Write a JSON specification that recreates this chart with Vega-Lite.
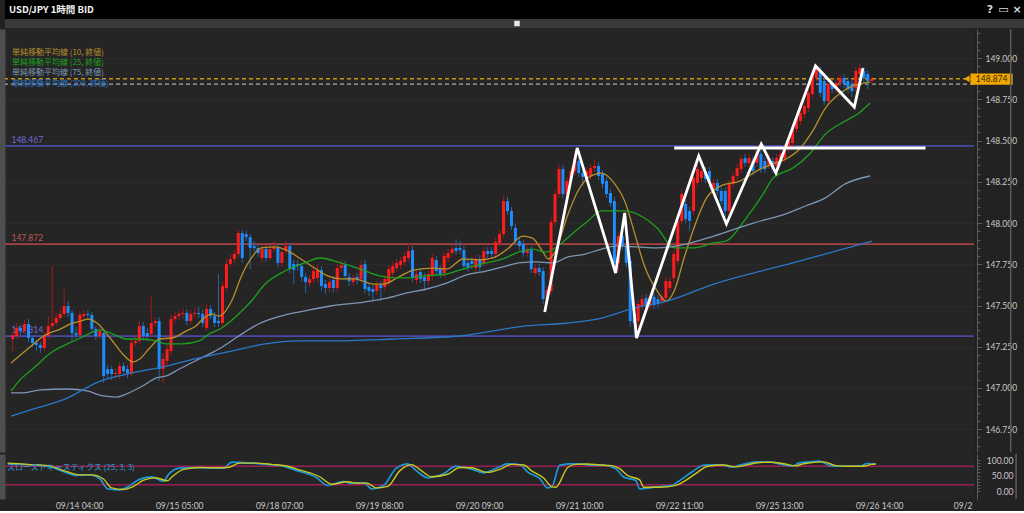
{
"$schema": "https://vega.github.io/schema/vega-lite/v6.json",
"background": "#222222",
"padding": 0,
"spacing": 0,
"resolve": {"scale": {"x": "independent", "y": "independent", "color": "independent"}},
"config": {"view": {"stroke": null}, "axis": {"labelFont": "Lato", "labelColor": "#c8c8c8", "title": null}},
"datasets": {
"candles": [
{"t":-18,"o":147.297,"h":147.339,"l":147.22,"c":147.321},
{"t":-17,"o":147.315,"h":147.394,"l":147.297,"c":147.364},
{"t":-16,"o":147.364,"h":147.382,"l":147.321,"c":147.345},
{"t":-15,"o":147.345,"h":147.412,"l":147.327,"c":147.388},
{"t":-14,"o":147.388,"h":147.418,"l":147.279,"c":147.303},
{"t":-13,"o":147.303,"h":147.321,"l":147.248,"c":147.273},
{"t":-12,"o":147.273,"h":147.291,"l":147.224,"c":147.261},
{"t":-11,"o":147.261,"h":147.279,"l":147.212,"c":147.242},
{"t":-10,"o":147.242,"h":147.339,"l":147.224,"c":147.315},
{"t":-9,"o":147.315,"h":147.436,"l":147.297,"c":147.376},
{"t":-8,"o":147.376,"h":147.739,"l":147.358,"c":147.394},
{"t":-7,"o":147.394,"h":147.455,"l":147.376,"c":147.424},
{"t":-6,"o":147.424,"h":147.479,"l":147.406,"c":147.449},
{"t":-5,"o":147.449,"h":147.6,"l":147.43,"c":147.497},
{"t":-4,"o":147.497,"h":147.527,"l":147.43,"c":147.455},
{"t":-3,"o":147.455,"h":147.473,"l":147.285,"c":147.333},
{"t":-2,"o":147.333,"h":147.37,"l":147.297,"c":147.321},
{"t":-1,"o":147.321,"h":147.467,"l":147.303,"c":147.443},
{"t":0,"o":147.436,"h":147.473,"l":147.418,"c":147.449},
{"t":1,"o":147.449,"h":147.473,"l":147.418,"c":147.443},
{"t":2,"o":147.443,"h":147.461,"l":147.339,"c":147.358},
{"t":3,"o":147.358,"h":147.376,"l":147.291,"c":147.315},
{"t":4,"o":147.315,"h":147.37,"l":147.297,"c":147.345},
{"t":5,"o":147.333,"h":147.358,"l":147.03,"c":147.073},
{"t":6,"o":147.115,"h":147.139,"l":147.061,"c":147.085},
{"t":7,"o":147.115,"h":147.133,"l":147.048,"c":147.085},
{"t":8,"o":147.085,"h":147.121,"l":147.061,"c":147.091},
{"t":9,"o":147.085,"h":147.158,"l":147.055,"c":147.133},
{"t":10,"o":147.133,"h":147.152,"l":147.079,"c":147.103},
{"t":11,"o":147.115,"h":147.139,"l":147.061,"c":147.091},
{"t":12,"o":147.091,"h":147.297,"l":147.073,"c":147.273},
{"t":13,"o":147.273,"h":147.309,"l":147.255,"c":147.285},
{"t":14,"o":147.285,"h":147.406,"l":147.267,"c":147.376},
{"t":15,"o":147.376,"h":147.4,"l":147.285,"c":147.315},
{"t":16,"o":147.333,"h":147.364,"l":147.285,"c":147.315},
{"t":17,"o":147.327,"h":147.558,"l":147.303,"c":147.394},
{"t":18,"o":147.394,"h":147.43,"l":147.37,"c":147.406},
{"t":19,"o":147.406,"h":147.43,"l":147.042,"c":147.115},
{"t":20,"o":147.115,"h":147.212,"l":147.03,"c":147.176},
{"t":21,"o":147.164,"h":147.261,"l":147.127,"c":147.236},
{"t":22,"o":147.224,"h":147.443,"l":147.2,"c":147.418},
{"t":23,"o":147.418,"h":147.461,"l":147.394,"c":147.436},
{"t":24,"o":147.436,"h":147.473,"l":147.412,"c":147.449},
{"t":25,"o":147.449,"h":147.485,"l":147.418,"c":147.455},
{"t":26,"o":147.455,"h":147.479,"l":147.382,"c":147.406},
{"t":27,"o":147.406,"h":147.473,"l":147.388,"c":147.449},
{"t":28,"o":147.449,"h":147.491,"l":147.424,"c":147.455},
{"t":29,"o":147.455,"h":147.491,"l":147.424,"c":147.449},
{"t":30,"o":147.449,"h":147.473,"l":147.37,"c":147.394},
{"t":31,"o":147.364,"h":147.509,"l":147.345,"c":147.479},
{"t":32,"o":147.479,"h":147.503,"l":147.418,"c":147.436},
{"t":33,"o":147.436,"h":147.461,"l":147.37,"c":147.394},
{"t":34,"o":147.406,"h":147.691,"l":147.37,"c":147.394},
{"t":35,"o":147.394,"h":147.648,"l":147.376,"c":147.618},
{"t":36,"o":147.606,"h":147.782,"l":147.588,"c":147.752},
{"t":37,"o":147.752,"h":147.812,"l":147.733,"c":147.782},
{"t":38,"o":147.782,"h":147.836,"l":147.758,"c":147.812},
{"t":39,"o":147.812,"h":147.958,"l":147.794,"c":147.939},
{"t":40,"o":147.939,"h":147.958,"l":147.758,"c":147.788},
{"t":41,"o":147.933,"h":147.952,"l":147.891,"c":147.915},
{"t":42,"o":147.915,"h":147.933,"l":147.72,"c":147.849},
{"t":43,"o":147.861,"h":147.891,"l":147.824,"c":147.849},
{"t":44,"o":147.849,"h":147.873,"l":147.794,"c":147.818},
{"t":45,"o":147.788,"h":147.867,"l":147.764,"c":147.842},
{"t":46,"o":147.842,"h":147.861,"l":147.764,"c":147.788},
{"t":47,"o":147.788,"h":147.867,"l":147.77,"c":147.842},
{"t":48,"o":147.842,"h":147.891,"l":147.824,"c":147.855},
{"t":49,"o":147.849,"h":147.873,"l":147.733,"c":147.758},
{"t":50,"o":147.758,"h":147.849,"l":147.733,"c":147.824},
{"t":51,"o":147.83,"h":147.891,"l":147.812,"c":147.861},
{"t":52,"o":147.861,"h":147.879,"l":147.697,"c":147.721},
{"t":53,"o":147.752,"h":147.776,"l":147.63,"c":147.715},
{"t":54,"o":147.752,"h":147.776,"l":147.709,"c":147.739},
{"t":55,"o":147.739,"h":147.758,"l":147.648,"c":147.673},
{"t":56,"o":147.673,"h":147.697,"l":147.576,"c":147.642},
{"t":57,"o":147.636,"h":147.685,"l":147.612,"c":147.661},
{"t":58,"o":147.661,"h":147.733,"l":147.636,"c":147.709},
{"t":59,"o":147.667,"h":147.745,"l":147.642,"c":147.715},
{"t":60,"o":147.715,"h":147.739,"l":147.588,"c":147.618},
{"t":61,"o":147.63,"h":147.655,"l":147.57,"c":147.606},
{"t":62,"o":147.606,"h":147.667,"l":147.582,"c":147.642},
{"t":63,"o":147.655,"h":147.679,"l":147.576,"c":147.606},
{"t":64,"o":147.606,"h":147.752,"l":147.582,"c":147.727},
{"t":65,"o":147.727,"h":147.776,"l":147.703,"c":147.745},
{"t":66,"o":147.745,"h":147.77,"l":147.655,"c":147.679},
{"t":67,"o":147.673,"h":147.697,"l":147.618,"c":147.648},
{"t":68,"o":147.642,"h":147.691,"l":147.618,"c":147.667},
{"t":69,"o":147.673,"h":147.697,"l":147.63,"c":147.655},
{"t":70,"o":147.661,"h":147.77,"l":147.636,"c":147.745},
{"t":71,"o":147.752,"h":147.776,"l":147.576,"c":147.6},
{"t":72,"o":147.612,"h":147.636,"l":147.558,"c":147.588},
{"t":73,"o":147.6,"h":147.624,"l":147.527,"c":147.582},
{"t":74,"o":147.588,"h":147.648,"l":147.564,"c":147.624},
{"t":75,"o":147.624,"h":147.648,"l":147.527,"c":147.606},
{"t":76,"o":147.612,"h":147.685,"l":147.588,"c":147.661},
{"t":77,"o":147.642,"h":147.745,"l":147.618,"c":147.721},
{"t":78,"o":147.697,"h":147.764,"l":147.673,"c":147.739},
{"t":79,"o":147.727,"h":147.782,"l":147.703,"c":147.758},
{"t":80,"o":147.745,"h":147.794,"l":147.721,"c":147.77},
{"t":81,"o":147.764,"h":147.824,"l":147.739,"c":147.8},
{"t":82,"o":147.788,"h":147.879,"l":147.77,"c":147.83},
{"t":83,"o":147.836,"h":147.861,"l":147.642,"c":147.667},
{"t":84,"o":147.655,"h":147.715,"l":147.63,"c":147.691},
{"t":85,"o":147.703,"h":147.727,"l":147.636,"c":147.661},
{"t":86,"o":147.673,"h":147.697,"l":147.588,"c":147.648},
{"t":87,"o":147.648,"h":147.715,"l":147.624,"c":147.691},
{"t":88,"o":147.679,"h":147.812,"l":147.655,"c":147.788},
{"t":89,"o":147.776,"h":147.8,"l":147.685,"c":147.709},
{"t":90,"o":147.721,"h":147.745,"l":147.667,"c":147.691},
{"t":91,"o":147.697,"h":147.824,"l":147.673,"c":147.8},
{"t":92,"o":147.788,"h":147.842,"l":147.764,"c":147.818},
{"t":93,"o":147.818,"h":147.867,"l":147.794,"c":147.842},
{"t":94,"o":147.849,"h":147.903,"l":147.806,"c":147.83},
{"t":95,"o":147.849,"h":147.891,"l":147.812,"c":147.836},
{"t":96,"o":147.836,"h":147.861,"l":147.715,"c":147.739},
{"t":97,"o":147.758,"h":147.782,"l":147.703,"c":147.727},
{"t":98,"o":147.77,"h":147.794,"l":147.721,"c":147.752},
{"t":99,"o":147.727,"h":147.806,"l":147.703,"c":147.782},
{"t":100,"o":147.782,"h":147.806,"l":147.709,"c":147.733},
{"t":101,"o":147.758,"h":147.855,"l":147.733,"c":147.83},
{"t":102,"o":147.83,"h":147.855,"l":147.788,"c":147.812},
{"t":103,"o":147.83,"h":147.855,"l":147.788,"c":147.812},
{"t":104,"o":147.812,"h":147.909,"l":147.788,"c":147.885},
{"t":105,"o":147.879,"h":147.958,"l":147.855,"c":147.933},
{"t":106,"o":147.933,"h":148.164,"l":147.909,"c":148.133},
{"t":107,"o":148.133,"h":148.158,"l":148.048,"c":148.073},
{"t":108,"o":148.073,"h":148.097,"l":147.958,"c":147.982},
{"t":109,"o":147.97,"h":147.994,"l":147.867,"c":147.891},
{"t":110,"o":147.891,"h":147.915,"l":147.836,"c":147.861},
{"t":111,"o":147.873,"h":147.897,"l":147.794,"c":147.818},
{"t":112,"o":147.818,"h":147.861,"l":147.794,"c":147.836},
{"t":113,"o":147.836,"h":147.861,"l":147.697,"c":147.721},
{"t":114,"o":147.697,"h":147.752,"l":147.673,"c":147.727},
{"t":115,"o":147.727,"h":147.752,"l":147.679,"c":147.703},
{"t":116,"o":147.709,"h":147.733,"l":147.509,"c":147.539},
{"t":117,"o":147.539,"h":147.618,"l":147.515,"c":147.594},
{"t":118,"o":147.588,"h":148.03,"l":147.564,"c":148.006},
{"t":119,"o":148.006,"h":148.2,"l":147.982,"c":148.176},
{"t":120,"o":148.176,"h":148.358,"l":148.152,"c":148.327},
{"t":121,"o":148.327,"h":148.352,"l":148.152,"c":148.176},
{"t":122,"o":148.176,"h":148.279,"l":148.152,"c":148.255},
{"t":123,"o":148.255,"h":148.339,"l":148.23,"c":148.315},
{"t":124,"o":148.315,"h":148.436,"l":148.291,"c":148.394},
{"t":125,"o":148.376,"h":148.4,"l":148.279,"c":148.303},
{"t":126,"o":148.303,"h":148.327,"l":148.224,"c":148.279},
{"t":127,"o":148.279,"h":148.339,"l":148.255,"c":148.315},
{"t":128,"o":148.285,"h":148.358,"l":148.261,"c":148.333},
{"t":129,"o":148.333,"h":148.388,"l":148.309,"c":148.346},
{"t":130,"o":148.346,"h":148.37,"l":148.261,"c":148.285},
{"t":131,"o":148.297,"h":148.321,"l":148.212,"c":148.237},
{"t":132,"o":148.255,"h":148.279,"l":148.152,"c":148.176},
{"t":133,"o":148.182,"h":148.206,"l":148.097,"c":148.121},
{"t":134,"o":148.133,"h":148.158,"l":147.733,"c":147.758},
{"t":135,"o":147.758,"h":147.945,"l":147.697,"c":147.921},
{"t":136,"o":147.921,"h":147.945,"l":147.836,"c":147.861},
{"t":137,"o":147.861,"h":147.885,"l":147.733,"c":147.758},
{"t":138,"o":147.77,"h":147.794,"l":147.37,"c":147.406},
{"t":139,"o":147.455,"h":147.497,"l":147.321,"c":147.394},
{"t":140,"o":147.406,"h":147.533,"l":147.358,"c":147.509},
{"t":141,"o":147.497,"h":147.564,"l":147.473,"c":147.539},
{"t":142,"o":147.545,"h":147.57,"l":147.473,"c":147.497},
{"t":143,"o":147.497,"h":147.576,"l":147.473,"c":147.552},
{"t":144,"o":147.552,"h":147.576,"l":147.479,"c":147.503},
{"t":145,"o":147.539,"h":147.564,"l":147.485,"c":147.509},
{"t":146,"o":147.527,"h":147.576,"l":147.503,"c":147.552},
{"t":147,"o":147.545,"h":147.673,"l":147.521,"c":147.648},
{"t":148,"o":147.606,"h":147.673,"l":147.582,"c":147.648},
{"t":149,"o":147.667,"h":147.836,"l":147.642,"c":147.812},
{"t":150,"o":147.77,"h":148.036,"l":147.745,"c":148.012},
{"t":151,"o":148.012,"h":148.2,"l":147.988,"c":148.176},
{"t":152,"o":148.115,"h":148.139,"l":148.0,"c":148.024},
{"t":153,"o":148.073,"h":148.097,"l":147.952,"c":148.012},
{"t":154,"o":148.073,"h":148.297,"l":148.048,"c":148.273},
{"t":155,"o":148.243,"h":148.352,"l":148.218,"c":148.327},
{"t":156,"o":148.273,"h":148.339,"l":148.249,"c":148.315},
{"t":157,"o":148.315,"h":148.339,"l":148.243,"c":148.267},
{"t":158,"o":148.315,"h":148.339,"l":148.218,"c":148.243},
{"t":159,"o":148.212,"h":148.267,"l":148.188,"c":148.243},
{"t":160,"o":148.243,"h":148.267,"l":148.17,"c":148.194},
{"t":161,"o":148.194,"h":148.218,"l":148.109,"c":148.133},
{"t":162,"o":148.194,"h":148.218,"l":148.036,"c":148.073},
{"t":163,"o":148.073,"h":148.261,"l":148.048,"c":148.237},
{"t":164,"o":148.237,"h":148.309,"l":148.212,"c":148.285},
{"t":165,"o":148.285,"h":148.358,"l":148.261,"c":148.333},
{"t":166,"o":148.327,"h":148.412,"l":148.303,"c":148.388},
{"t":167,"o":148.394,"h":148.418,"l":148.339,"c":148.364},
{"t":168,"o":148.364,"h":148.418,"l":148.339,"c":148.394},
{"t":169,"o":148.376,"h":148.4,"l":148.291,"c":148.315},
{"t":170,"o":148.364,"h":148.473,"l":148.339,"c":148.436},
{"t":171,"o":148.418,"h":148.442,"l":148.303,"c":148.327},
{"t":172,"o":148.376,"h":148.4,"l":148.303,"c":148.327},
{"t":173,"o":148.352,"h":148.418,"l":148.327,"c":148.394},
{"t":174,"o":148.376,"h":148.4,"l":148.303,"c":148.327},
{"t":175,"o":148.346,"h":148.418,"l":148.321,"c":148.394},
{"t":176,"o":148.388,"h":148.442,"l":148.364,"c":148.418},
{"t":177,"o":148.394,"h":148.479,"l":148.37,"c":148.455},
{"t":178,"o":148.449,"h":148.521,"l":148.424,"c":148.497},
{"t":179,"o":148.485,"h":148.6,"l":148.461,"c":148.576},
{"t":180,"o":148.57,"h":148.655,"l":148.545,"c":148.63},
{"t":181,"o":148.618,"h":148.691,"l":148.594,"c":148.667},
{"t":182,"o":148.661,"h":148.733,"l":148.636,"c":148.709},
{"t":183,"o":148.697,"h":148.812,"l":148.673,"c":148.788},
{"t":184,"o":148.782,"h":148.927,"l":148.758,"c":148.903},
{"t":185,"o":148.879,"h":148.97,"l":148.855,"c":148.952},
{"t":186,"o":148.921,"h":148.946,"l":148.764,"c":148.788},
{"t":187,"o":148.861,"h":148.885,"l":148.715,"c":148.739},
{"t":188,"o":148.739,"h":148.867,"l":148.715,"c":148.842},
{"t":189,"o":148.842,"h":148.867,"l":148.788,"c":148.812},
{"t":190,"o":148.812,"h":148.873,"l":148.788,"c":148.849},
{"t":191,"o":148.849,"h":148.903,"l":148.824,"c":148.879},
{"t":192,"o":148.879,"h":148.903,"l":148.818,"c":148.842},
{"t":193,"o":148.861,"h":148.885,"l":148.788,"c":148.812},
{"t":194,"o":148.842,"h":148.867,"l":148.764,"c":148.8},
{"t":195,"o":148.818,"h":148.946,"l":148.794,"c":148.921},
{"t":196,"o":148.903,"h":148.97,"l":148.879,"c":148.939},
{"t":197,"o":148.921,"h":148.946,"l":148.855,"c":148.879},
{"t":198,"o":148.903,"h":148.927,"l":148.812,"c":148.861},
{"t":199,"o":148.861,"h":148.885,"l":148.842,"c":148.873}
],
"ma": [
{"s":"10","t":-18.4,"v":147.152},{"s":"10","t":-12.7,"v":147.267},{"s":"10","t":-10.2,"v":147.315},{"s":"10","t":-5.9,"v":147.358},{"s":"10","t":-3.4,"v":147.388},{"s":"10","t":-0.9,"v":147.406},{"s":"10","t":1.1,"v":147.418},{"s":"10","t":3.3,"v":147.394},{"s":"10","t":6.6,"v":147.303},{"s":"10","t":9.8,"v":147.206},{"s":"10","t":12.3,"v":147.158},{"s":"10","t":14.1,"v":147.176},{"s":"10","t":16.6,"v":147.242},{"s":"10","t":19.1,"v":147.297},{"s":"10","t":22.3,"v":147.303},{"s":"10","t":25.8,"v":147.345},{"s":"10","t":28.3,"v":147.376},{"s":"10","t":30.3,"v":147.424},{"s":"10","t":32.3,"v":147.449},{"s":"10","t":34.1,"v":147.436},{"s":"10","t":37.3,"v":147.527},{"s":"10","t":39.8,"v":147.679},{"s":"10","t":42.3,"v":147.788},{"s":"10","t":44.8,"v":147.849},{"s":"10","t":48.3,"v":147.855},{"s":"10","t":51.6,"v":147.83},{"s":"10","t":54.8,"v":147.782},{"s":"10","t":58.3,"v":147.727},{"s":"10","t":61.6,"v":147.679},{"s":"10","t":64.8,"v":147.661},{"s":"10","t":68.3,"v":147.661},{"s":"10","t":73.3,"v":147.63},{"s":"10","t":75.8,"v":147.63},{"s":"10","t":79.1,"v":147.667},{"s":"10","t":83.3,"v":147.715},{"s":"10","t":88.3,"v":147.727},{"s":"10","t":91.6,"v":147.721},{"s":"10","t":95.8,"v":147.782},{"s":"10","t":99.8,"v":147.776},{"s":"10","t":103.3,"v":147.788},{"s":"10","t":107.3,"v":147.849},{"s":"10","t":110.8,"v":147.921},{"s":"10","t":113.3,"v":147.909},{"s":"10","t":115.8,"v":147.83},{"s":"10","t":117.3,"v":147.782},{"s":"10","t":119.1,"v":147.83},{"s":"10","t":122.3,"v":148.055},{"s":"10","t":124.8,"v":148.194},{"s":"10","t":127.3,"v":148.273},{"s":"10","t":130.8,"v":148.303},{"s":"10","t":134.1,"v":148.237},{"s":"10","t":136.6,"v":148.133},{"s":"10","t":139.1,"v":147.939},{"s":"10","t":141.6,"v":147.739},{"s":"10","t":144.8,"v":147.588},{"s":"10","t":147.1,"v":147.527},{"s":"10","t":149.1,"v":147.588},{"s":"10","t":151.6,"v":147.788},{"s":"10","t":154.1,"v":147.97},{"s":"10","t":157.3,"v":148.152},{"s":"10","t":160.8,"v":148.224},{"s":"10","t":165.8,"v":148.255},{"s":"10","t":170.8,"v":148.327},{"s":"10","t":174.1,"v":148.358},{"s":"10","t":177.3,"v":148.388},{"s":"10","t":180.8,"v":148.449},{"s":"10","t":184.1,"v":148.558},{"s":"10","t":187.3,"v":148.697},{"s":"10","t":190.8,"v":148.782},{"s":"10","t":194.1,"v":148.83},{"s":"10","t":197.3,"v":148.849},{"s":"10","t":198.6,"v":148.855},
{"s":"25","t":-18.4,"v":146.982},{"s":"25","t":-15.9,"v":147.055},{"s":"25","t":-12.7,"v":147.121},{"s":"25","t":-8.4,"v":147.212},{"s":"25","t":-4.2,"v":147.267},{"s":"25","t":-0.9,"v":147.303},{"s":"25","t":1.6,"v":147.333},{"s":"25","t":4.1,"v":147.352},{"s":"25","t":7.3,"v":147.327},{"s":"25","t":10.8,"v":147.297},{"s":"25","t":14.1,"v":147.297},{"s":"25","t":18.3,"v":147.285},{"s":"25","t":20.8,"v":147.267},{"s":"25","t":24.8,"v":147.267},{"s":"25","t":29.1,"v":147.285},{"s":"25","t":31.6,"v":147.327},{"s":"25","t":34.8,"v":147.364},{"s":"25","t":39.1,"v":147.449},{"s":"25","t":42.3,"v":147.527},{"s":"25","t":45.8,"v":147.63},{"s":"25","t":50.8,"v":147.709},{"s":"25","t":55.8,"v":147.758},{"s":"25","t":59.6,"v":147.788},{"s":"25","t":64.8,"v":147.758},{"s":"25","t":69.8,"v":147.721},{"s":"25","t":74.8,"v":147.679},{"s":"25","t":78.3,"v":147.667},{"s":"25","t":81.6,"v":147.667},{"s":"25","t":85.8,"v":147.679},{"s":"25","t":91.6,"v":147.691},{"s":"25","t":96.6,"v":147.727},{"s":"25","t":101.6,"v":147.758},{"s":"25","t":105.8,"v":147.782},{"s":"25","t":109.8,"v":147.824},{"s":"25","t":113.3,"v":147.842},{"s":"25","t":116.6,"v":147.824},{"s":"25","t":119.1,"v":147.849},{"s":"25","t":123.3,"v":147.933},{"s":"25","t":127.3,"v":148.012},{"s":"25","t":130.8,"v":148.073},{"s":"25","t":136.6,"v":148.073},{"s":"25","t":141.6,"v":148.03},{"s":"25","t":144.8,"v":147.97},{"s":"25","t":149.1,"v":147.849},{"s":"25","t":154.1,"v":147.849},{"s":"25","t":159.1,"v":147.879},{"s":"25","t":162.3,"v":147.891},{"s":"25","t":167.3,"v":148.03},{"s":"25","t":171.6,"v":148.176},{"s":"25","t":174.1,"v":148.273},{"s":"25","t":179.1,"v":148.333},{"s":"25","t":183.3,"v":148.418},{"s":"25","t":187.3,"v":148.539},{"s":"25","t":192.3,"v":148.618},{"s":"25","t":195.8,"v":148.667},{"s":"25","t":198.6,"v":148.727},
{"s":"75","t":-18.4,"v":146.97},{"s":"75","t":-15.9,"v":146.97},{"s":"75","t":-10.9,"v":146.988},{"s":"75","t":-4.2,"v":146.994},{"s":"75","t":0.8,"v":146.982},{"s":"75","t":4.8,"v":146.952},{"s":"75","t":8.3,"v":146.945},{"s":"75","t":10.8,"v":146.964},{"s":"75","t":14.8,"v":147.012},{"s":"75","t":18.3,"v":147.061},{"s":"75","t":20.8,"v":147.073},{"s":"75","t":24.1,"v":147.115},{"s":"75","t":29.1,"v":147.176},{"s":"75","t":34.1,"v":147.236},{"s":"75","t":39.1,"v":147.315},{"s":"75","t":44.1,"v":147.388},{"s":"75","t":49.8,"v":147.436},{"s":"75","t":55.8,"v":147.467},{"s":"75","t":62.3,"v":147.497},{"s":"75","t":70.8,"v":147.521},{"s":"75","t":76.6,"v":147.545},{"s":"75","t":81.6,"v":147.576},{"s":"75","t":86.6,"v":147.6},{"s":"75","t":91.6,"v":147.636},{"s":"75","t":96.6,"v":147.685},{"s":"75","t":101.6,"v":147.709},{"s":"75","t":106.6,"v":147.739},{"s":"75","t":109.8,"v":147.758},{"s":"75","t":114.1,"v":147.764},{"s":"75","t":118.3,"v":147.758},{"s":"75","t":122.3,"v":147.794},{"s":"75","t":126.6,"v":147.812},{"s":"75","t":130.8,"v":147.842},{"s":"75","t":134.8,"v":147.861},{"s":"75","t":139.8,"v":147.855},{"s":"75","t":144.8,"v":147.849},{"s":"75","t":152.3,"v":147.873},{"s":"75","t":159.1,"v":147.921},{"s":"75","t":169.1,"v":148.0},{"s":"75","t":177.3,"v":148.055},{"s":"75","t":182.3,"v":148.103},{"s":"75","t":187.3,"v":148.152},{"s":"75","t":192.3,"v":148.237},{"s":"75","t":198.6,"v":148.285},
{"s":"200","t":-18.4,"v":146.83},{"s":"200","t":-12.7,"v":146.873},{"s":"200","t":-4.2,"v":146.939},{"s":"200","t":4.1,"v":147.042},{"s":"200","t":12.3,"v":147.091},{"s":"200","t":20.8,"v":147.133},{"s":"200","t":29.1,"v":147.182},{"s":"200","t":37.3,"v":147.224},{"s":"200","t":45.8,"v":147.267},{"s":"200","t":54.1,"v":147.285},{"s":"200","t":62.3,"v":147.285},{"s":"200","t":78.3,"v":147.297},{"s":"200","t":94.8,"v":147.315},{"s":"200","t":111.6,"v":147.376},{"s":"200","t":122.3,"v":147.394},{"s":"200","t":130.8,"v":147.424},{"s":"200","t":139.1,"v":147.485},{"s":"200","t":147.3,"v":147.527},{"s":"200","t":159.1,"v":147.63},{"s":"200","t":179.1,"v":147.758},{"s":"200","t":199.1,"v":147.891}
],
"zig": [
{"i":0,"t":116.4,"v":147.461},{"i":1,"t":124.6,"v":148.455},{"i":2,"t":134.3,"v":147.697},{"i":3,"t":136.6,"v":148.061},{"i":4,"t":139.6,"v":147.303},{"i":5,"t":155.3,"v":148.406},{"i":6,"t":162.3,"v":147.994},{"i":7,"t":171.1,"v":148.479},{"i":8,"t":174.8,"v":148.303},{"i":9,"t":184.8,"v":148.952},{"i":10,"t":194.6,"v":148.703},{"i":11,"t":196.8,"v":148.939}
],
"stk": [
{"t":-18,"v":88},{"t":-13,"v":85},{"t":-8,"v":80},{"t":-4,"v":63},{"t":-1,"v":50},{"t":2,"v":53},{"t":5,"v":40},{"t":7,"v":7},{"t":10,"v":4},{"t":12,"v":13},{"t":15,"v":38},{"t":18,"v":45},{"t":21,"v":31},{"t":22,"v":50},{"t":25,"v":74},{"t":29,"v":76},{"t":33,"v":74},{"t":36,"v":74},{"t":38,"v":93},{"t":42,"v":91},{"t":47,"v":85},{"t":51,"v":80},{"t":54,"v":67},{"t":59,"v":45},{"t":62,"v":18},{"t":66,"v":31},{"t":68,"v":24},{"t":71,"v":27},{"t":73,"v":7},{"t":76,"v":18},{"t":79,"v":72},{"t":82,"v":87},{"t":84,"v":67},{"t":87,"v":43},{"t":91,"v":56},{"t":94,"v":80},{"t":97,"v":74},{"t":101,"v":59},{"t":104,"v":72},{"t":107,"v":88},{"t":110,"v":85},{"t":112,"v":61},{"t":115,"v":40},{"t":117,"v":10},{"t":118,"v":13},{"t":120,"v":83},{"t":123,"v":88},{"t":125,"v":88},{"t":128,"v":83},{"t":131,"v":83},{"t":134,"v":72},{"t":136,"v":45},{"t":139,"v":34},{"t":140,"v":7},{"t":144,"v":13},{"t":148,"v":18},{"t":150,"v":34},{"t":153,"v":61},{"t":156,"v":83},{"t":160,"v":85},{"t":163,"v":77},{"t":165,"v":83},{"t":169,"v":94},{"t":172,"v":94},{"t":175,"v":87},{"t":178,"v":80},{"t":180,"v":91},{"t":185,"v":96},{"t":188,"v":80},{"t":191,"v":80},{"t":195,"v":80},{"t":197,"v":89},{"t":199,"v":87}
],
"std": [
{"t":-18,"v":90},{"t":-13,"v":86},{"t":-8,"v":82},{"t":-4,"v":66},{"t":0,"v":52},{"t":3,"v":52},{"t":6,"v":38},{"t":8,"v":10},{"t":11,"v":5},{"t":13,"v":12},{"t":16,"v":35},{"t":19,"v":43},{"t":22,"v":33},{"t":23,"v":45},{"t":26,"v":70},{"t":30,"v":76},{"t":34,"v":75},{"t":37,"v":76},{"t":40,"v":90},{"t":44,"v":90},{"t":48,"v":86},{"t":52,"v":80},{"t":55,"v":68},{"t":60,"v":46},{"t":63,"v":22},{"t":67,"v":30},{"t":69,"v":26},{"t":72,"v":25},{"t":74,"v":10},{"t":77,"v":15},{"t":80,"v":65},{"t":83,"v":85},{"t":85,"v":70},{"t":88,"v":46},{"t":92,"v":54},{"t":95,"v":76},{"t":98,"v":75},{"t":102,"v":60},{"t":105,"v":70},{"t":108,"v":86},{"t":111,"v":84},{"t":113,"v":65},{"t":116,"v":42},{"t":118,"v":14},{"t":119,"v":12},{"t":122,"v":76},{"t":124,"v":86},{"t":127,"v":87},{"t":130,"v":84},{"t":133,"v":82},{"t":135,"v":72},{"t":137,"v":50},{"t":140,"v":36},{"t":141,"v":12},{"t":145,"v":12},{"t":149,"v":18},{"t":151,"v":30},{"t":154,"v":56},{"t":157,"v":80},{"t":161,"v":84},{"t":164,"v":78},{"t":166,"v":82},{"t":170,"v":92},{"t":173,"v":93},{"t":176,"v":88},{"t":179,"v":81},{"t":181,"v":88},{"t":186,"v":94},{"t":189,"v":82},{"t":192,"v":80},{"t":196,"v":80},{"t":198,"v":86},{"t":199,"v":87}
],
"dates": [
{"t":0,"label":"09/14 04:00"},{"t":25,"label":"09/15 05:00"},{"t":50,"label":"09/18 07:00"},{"t":75,"label":"09/19 08:00"},{"t":100,"label":"09/20 09:00"},{"t":125,"label":"09/21 10:00"},{"t":150,"label":"09/22 11:00"},{"t":175,"label":"09/25 13:00"},{"t":200,"label":"09/26 14:00"}
]
},
"vconcat": [
{
"width": 1024, "height": 19,
"view": {"fill": "#000000", "stroke": null},
"resolve": {"scale": {"x": "independent"}},
"layer": [
{
"data": {"values": [{"label": "USD/JPY 1時間 BID"}]},
"mark": {"type": "text", "align": "left", "baseline": "middle", "dx": 4, "color": "#f2f2f2", "font": "Noto Sans CJK JP", "fontSize": 9.5, "fontWeight": "bold"},
"encoding": {
"x": {"datum": 0, "type": "quantitative", "scale": {"domain": [0, 1], "nice": false, "zero": false}, "axis": null},
"text": {"field": "label"}
}
},
{
"data": {"values": [{"icon": "?"}, {"icon": "▭"}, {"icon": "×"}]},
"mark": {"type": "text", "color": "#d8d8d8", "fontSize": 11, "font": "DejaVu Sans", "fontWeight": "bold", "baseline": "middle"},
"encoding": {
"x": {"field": "icon", "type": "nominal", "sort": null, "scale": {"type": "point", "range": [985, 1012], "padding": 0}, "axis": null},
"text": {"field": "icon"}
}
}
]
},
{
"width": 1024, "height": 9,
"view": {"fill": "#3a3a3a", "stroke": null},
"data": {"values": [{"tab": "tab"}]},
"mark": {"type": "square", "color": "#e6e6e6", "filled": true, "opacity": 1, "size": 30},
"encoding": {"x": {"field": "tab", "type": "nominal", "axis": null}}
},
{
"width": 969, "height": 423,
"view": {"fill": "#252525", "stroke": null},
"resolve": {"axis": {"y": "independent"}},
"layer": [
{
"data": {"values": [{"v": 148.467, "k": "p"}, {"v": 147.872, "k": "r"}, {"v": 147.314, "k": "p"}]},
"mark": {"type": "rule", "strokeWidth": 1.8},
"encoding": {
"y": {"field": "v", "type": "quantitative", "scale": {"domain": [146.612, 149.176], "nice": false, "zero": false},
"axis": {"orient": "left", "labels": false, "ticks": false, "grid": false, "domain": true, "domainColor": "#4e4e4e", "domainWidth": 9, "offset": 4.5, "title": null, "minExtent": 0, "maxExtent": 0}},
"color": {"condition": {"test": "datum.k == 'r'", "value": "#a84242"}, "value": "#4a4aa6"}
}
},
{
"data": {"values": [{"v": 148.467, "k": "p"}, {"v": 147.872, "k": "r"}, {"v": 147.314, "k": "p"}]},
"mark": {"type": "text", "align": "left", "baseline": "bottom", "dy": -1, "fontSize": 8.5, "font": "Lato"},
"encoding": {
"x": {"datum": -18.3, "type": "quantitative", "scale": {"domain": [-18.675, 223.575], "nice": false, "zero": false}, "axis": null},
"y": {"field": "v", "type": "quantitative", "scale": {"domain": [146.612, 149.176], "nice": false, "zero": false}, "axis": null},
"text": {"field": "v", "type": "quantitative", "format": ".3f"},
"color": {"condition": {"test": "datum.k == 'r'", "value": "#c25555"}, "value": "#6c6cd6"}
}
},
{
"data": {"values": [{"v": 148.874, "k": "a"}, {"v": 148.842, "k": "b"}]},
"mark": {"type": "rule", "strokeWidth": 1.4, "strokeDash": [4, 3]},
"encoding": {
"y": {"field": "v", "type": "quantitative", "scale": {"domain": [146.612, 149.176], "nice": false, "zero": false}, "axis": null},
"color": {"condition": {"test": "datum.k == 'a'", "value": "#c8960e"}, "value": "#a8a8a8"}
}
},
{
"data": {"name": "candles"},
"mark": {"type": "rule", "strokeWidth": 1},
"encoding": {
"x": {"field": "t", "type": "quantitative", "scale": {"domain": [-18.675, 223.575], "nice": false, "zero": false},
"axis": {"values": [0, 25, 50, 75, 100, 125, 150, 175, 200], "labels": false, "ticks": false, "domain": true, "domainColor": "#4a4a4a", "grid": true, "gridColor": "#3c3c3c", "gridDash": [1, 3], "title": null, "minExtent": 0, "maxExtent": 0}},
"y": {"field": "l", "type": "quantitative", "scale": {"domain": [146.612, 149.176], "nice": false, "zero": false},
"axis": {"orient": "right", "offset": 3, "title": null,
"values": [146.65,146.7,146.75,146.8,146.85,146.9,146.95,147,147.05,147.1,147.15,147.2,147.25,147.3,147.35,147.4,147.45,147.5,147.55,147.6,147.65,147.7,147.75,147.8,147.85,147.9,147.95,148,148.05,148.1,148.15,148.2,148.25,148.3,148.35,148.4,148.45,148.5,148.55,148.6,148.65,148.7,148.75,148.8,148.85,148.9,148.95,149,149.05,149.1,149.15],
"labelExpr": "abs(datum.value*4 - round(datum.value*4)) < 0.01 ? format(datum.value, '.3f') : ''",
"labelFontSize": 8.5, "labelColor": "#c8c8c8", "labelPadding": 3, "labelOverlap": false, "labelFlush": false, "labelBaseline": "middle",
"domain": true, "domainColor": "#5a5a5a", "ticks": true, "tickColor": "#5a5a5a",
"tickSize": {"condition": {"test": "abs(datum.value*4 - round(datum.value*4)) < 0.01", "value": 5}, "value": 3},
"grid": true, "gridColor": "#3c3c3c", "gridDash": [1, 3],
"gridOpacity": {"condition": {"test": "abs(datum.value*4 - round(datum.value*4)) < 0.01", "value": 1}, "value": 0}}},
"y2": {"field": "h"},
"color": {"condition": {"test": "datum.c >= datum.o", "value": "#a81818"}, "value": "#2466a8"}
}
},
{
"data": {"name": "candles"},
"mark": {"type": "bar", "size": 3},
"encoding": {
"x": {"field": "t", "type": "quantitative", "scale": {"domain": [-18.675, 223.575], "nice": false, "zero": false}, "axis": null},
"y": {"field": "o", "type": "quantitative", "scale": {"domain": [146.612, 149.176], "nice": false, "zero": false}, "axis": null},
"y2": {"field": "c"},
"color": {"condition": {"test": "datum.c >= datum.o", "value": "#ff1c1c"}, "value": "#1e8cff"}
}
},
{
"data": {"name": "ma"},
"mark": {"type": "line", "strokeWidth": 1.3, "interpolate": "monotone"},
"encoding": {
"x": {"field": "t", "type": "quantitative", "scale": {"domain": [-18.675, 223.575], "nice": false, "zero": false}, "axis": null},
"y": {"field": "v", "type": "quantitative", "scale": {"domain": [146.612, 149.176], "nice": false, "zero": false}, "axis": null},
"color": {"field": "s", "type": "nominal", "scale": {"domain": ["10", "25", "75", "200"], "range": ["#b88f2a", "#1ea01e", "#7b96b4", "#2a78c8"]}, "legend": null},
"detail": {"field": "s"}
}
},
{
"data": {"name": "zig"},
"mark": {"type": "line", "color": "#ffffff", "strokeWidth": 2.8},
"encoding": {
"x": {"field": "t", "type": "quantitative", "scale": {"domain": [-18.675, 223.575], "nice": false, "zero": false}, "axis": null},
"y": {"field": "v", "type": "quantitative", "scale": {"domain": [146.612, 149.176], "nice": false, "zero": false}, "axis": null},
"order": {"field": "i"}
}
},
{
"data": {"values": [{"t": 149.1, "t2": 212.6, "v": 148.455}]},
"mark": {"type": "rule", "color": "#ffffff", "strokeWidth": 3},
"encoding": {
"x": {"field": "t", "type": "quantitative", "scale": {"domain": [-18.675, 223.575], "nice": false, "zero": false}, "axis": null},
"x2": {"field": "t2"},
"y": {"field": "v", "type": "quantitative", "scale": {"domain": [146.612, 149.176], "nice": false, "zero": false}, "axis": null}
}
},
{
"data": {"values": [
{"label": "単純移動平均線 (10, 終値)", "s": "10", "v": 149.03},
{"label": "単純移動平均線 (25, 終値)", "s": "25", "v": 148.97},
{"label": "単純移動平均線 (75, 終値)", "s": "75", "v": 148.909},
{"label": "単純移動平均線 (200, 終値)", "s": "200", "v": 148.845}
]},
"mark": {"type": "text", "align": "left", "baseline": "middle", "fontSize": 8, "font": "Noto Sans CJK JP"},
"encoding": {
"x": {"datum": -18.2, "type": "quantitative", "scale": {"domain": [-18.675, 223.575], "nice": false, "zero": false}, "axis": null},
"y": {"field": "v", "type": "quantitative", "scale": {"domain": [146.612, 149.176], "nice": false, "zero": false}, "axis": null},
"text": {"field": "label"},
"color": {"field": "s", "type": "nominal", "scale": {"domain": ["10", "25", "75", "200"], "range": ["#b88f2a", "#1ea01e", "#7b96b4", "#2a78c8"]}, "legend": null}
}
},
{
"data": {"values": [{"p": 148.874}]},
"mark": {"type": "rect", "color": "#f2a600", "clip": false},
"encoding": {
"x": {"datum": 223.95, "type": "quantitative", "scale": {"domain": [-18.675, 223.575], "nice": false, "zero": false}, "axis": null},
"x2": {"datum": 234.6},
"y": {"datum": 148.906, "type": "quantitative", "scale": {"domain": [146.612, 149.176], "nice": false, "zero": false}, "axis": null},
"y2": {"datum": 148.838}
}
},
{
"data": {"values": [{"p": 148.874}]},
"mark": {"type": "point", "shape": "triangle-left", "filled": true, "color": "#f2a600", "opacity": 1, "size": 45, "clip": false},
"encoding": {
"x": {"datum": 223.0, "type": "quantitative", "scale": {"domain": [-18.675, 223.575], "nice": false, "zero": false}, "axis": null},
"y": {"field": "p", "type": "quantitative", "scale": {"domain": [146.612, 149.176], "nice": false, "zero": false}, "axis": null}
}
},
{
"data": {"values": [{"p": 148.874}]},
"mark": {"type": "text", "color": "#3a2600", "fontSize": 8.5, "font": "Lato", "align": "center", "baseline": "middle", "clip": false},
"encoding": {
"x": {"datum": 229.3, "type": "quantitative", "scale": {"domain": [-18.675, 223.575], "nice": false, "zero": false}, "axis": null},
"y": {"field": "p", "type": "quantitative", "scale": {"domain": [146.612, 149.176], "nice": false, "zero": false}, "axis": null},
"text": {"field": "p", "type": "quantitative", "format": ".3f"}
}
},
{
"data": {"values": [{"edge": 234.1}]},
"mark": {"type": "rule", "color": "#5c5c5c", "strokeWidth": 1.5, "clip": false},
"encoding": {
"x": {"field": "edge", "type": "quantitative", "scale": {"domain": [-18.675, 223.575], "nice": false, "zero": false}, "axis": null}
}
}
]
},
{
"width": 969, "height": 45,
"view": {"fill": "#252525", "stroke": null},
"resolve": {"axis": {"y": "independent"}},
"layer": [
{
"data": {"name": "stk"},
"mark": {"type": "line", "color": "#1a96d2", "strokeWidth": 1.4, "interpolate": "monotone"},
"encoding": {
"x": {"field": "t", "type": "quantitative", "scale": {"domain": [-18.675, 223.575], "nice": false, "zero": false},
"axis": {"orient": "bottom", "title": null,
"values": [-15,-10,-5,0,5,10,15,20,25,30,35,40,45,50,55,60,65,70,75,80,85,90,95,100,105,110,115,120,125,130,135,140,145,150,155,160,165,170,175,180,185,190,195,200,205,210,215,220],
"labels": false, "domain": true, "domainColor": "#5a5a5a", "ticks": true, "tickColor": "#5a5a5a", "tickSize": 3, "grid": false}},
"y": {"field": "v", "type": "quantitative", "scale": {"domain": [-25.8, 119.4], "nice": false, "zero": false},
"axis": {"orient": "right", "offset": 3, "title": null, "values": [0,10,20,30,40,50,60,70,80,90,100],
"labelExpr": "datum.value % 50 == 0 ? format(datum.value, '.2f') : ''",
"labelAlign": "right", "labelPadding": 33, "labelFontSize": 8.5, "labelColor": "#c8c8c8", "labelOverlap": false, "labelFlush": false, "labelBaseline": "middle",
"domain": true, "domainColor": "#5a5a5a", "ticks": true, "tickColor": "#5a5a5a", "tickSize": 3, "grid": false}}
}
},
{
"data": {"values": [{"v": 80}, {"v": 20}]},
"mark": {"type": "rule", "color": "#9a1e56", "strokeWidth": 1.4},
"encoding": {
"y": {"field": "v", "type": "quantitative", "scale": {"domain": [-25.8, 119.4], "nice": false, "zero": false},
"axis": {"orient": "left", "labels": false, "ticks": false, "grid": false, "domain": true, "domainColor": "#4e4e4e", "domainWidth": 9, "offset": 4.5, "title": null, "minExtent": 0, "maxExtent": 0}}
}
},
{
"data": {"name": "stk"},
"mark": {"type": "line", "color": "#1a96d2", "strokeWidth": 1.4, "interpolate": "monotone"},
"encoding": {
"x": {"field": "t", "type": "quantitative", "scale": {"domain": [-18.675, 223.575], "nice": false, "zero": false}, "axis": null},
"y": {"field": "v", "type": "quantitative", "scale": {"domain": [-25.8, 119.4], "nice": false, "zero": false}, "axis": null}
}
},
{
"data": {"name": "std"},
"mark": {"type": "line", "color": "#c8c81e", "strokeWidth": 1.4, "interpolate": "monotone"},
"encoding": {
"x": {"field": "t", "type": "quantitative", "scale": {"domain": [-18.675, 223.575], "nice": false, "zero": false}, "axis": null},
"y": {"field": "v", "type": "quantitative", "scale": {"domain": [-25.8, 119.4], "nice": false, "zero": false}, "axis": null}
}
},
{
"data": {"values": [{"label": "スローストキャスティクス (25, 3, 3)", "v": 74}]},
"mark": {"type": "text", "align": "left", "baseline": "middle", "fontSize": 8, "font": "Noto Sans CJK JP", "color": "#2a9ed8"},
"encoding": {
"x": {"datum": -18.2, "type": "quantitative", "scale": {"domain": [-18.675, 223.575], "nice": false, "zero": false}, "axis": null},
"y": {"field": "v", "type": "quantitative", "scale": {"domain": [-25.8, 119.4], "nice": false, "zero": false}, "axis": null},
"text": {"field": "label"}
}
},
{
"data": {"name": "dates"},
"mark": {"type": "text", "align": "center", "baseline": "middle", "fontSize": 8.5, "font": "Lato", "color": "#c8c8c8", "clip": false},
"encoding": {
"x": {"field": "t", "type": "quantitative", "scale": {"domain": [-18.675, 223.575], "nice": false, "zero": false}, "axis": null},
"y": {"datum": -48, "type": "quantitative", "scale": {"domain": [-25.8, 119.4], "nice": false, "zero": false}, "axis": null},
"text": {"field": "label"}
}
},
{
"data": {"values": [{"t": 223.2, "label": "09/2"}]},
"mark": {"type": "text", "align": "right", "baseline": "middle", "fontSize": 8.5, "font": "Lato", "color": "#c8c8c8", "clip": false},
"encoding": {
"x": {"field": "t", "type": "quantitative", "scale": {"domain": [-18.675, 223.575], "nice": false, "zero": false}, "axis": null},
"y": {"datum": -48, "type": "quantitative", "scale": {"domain": [-25.8, 119.4], "nice": false, "zero": false}, "axis": null},
"text": {"field": "label"}
}
},
{
"data": {"values": [{"edge": 234.1}]},
"mark": {"type": "rule", "color": "#5c5c5c", "strokeWidth": 1.5, "clip": false},
"encoding": {
"x": {"field": "edge", "type": "quantitative", "scale": {"domain": [-18.675, 223.575], "nice": false, "zero": false}, "axis": null}
}
}
]
}
]
}
